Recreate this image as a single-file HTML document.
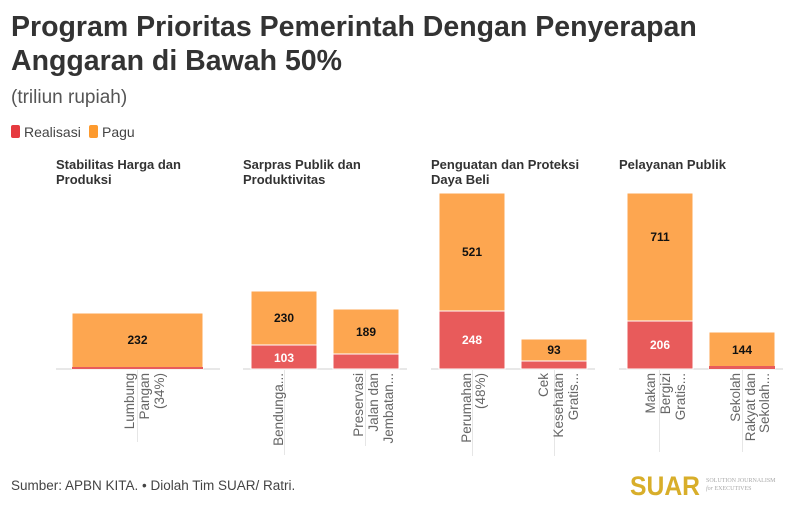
<!DOCTYPE html>
<html><head><meta charset="utf-8"><style>
body{margin:0;background:#fff;}
svg{display:block;font-family:"Liberation Sans",sans-serif;}
.t{font-size:28.5px;font-weight:bold;fill:#333;}
.pt{font-size:13px;font-weight:bold;fill:#333;}
.xl{font-size:13.5px;fill:#666;}
.vo{font-size:12px;font-weight:bold;fill:#111;text-anchor:middle;}
.vr{font-size:12px;font-weight:bold;fill:#fff;text-anchor:middle;}
</style></head><body>
<svg width="795" height="507" viewBox="0 0 795 507">
<text class="t" x="11" y="36">Program Prioritas Pemerintah Dengan Penyerapan</text>
<text class="t" x="11" y="70">Anggaran di Bawah 50%</text>
<text x="11" y="103" font-size="19" fill="#555">(triliun rupiah)</text>
<rect x="11" y="125" width="9" height="13" rx="2" fill="#e63a3f"/>
<text x="24" y="137" font-size="14" fill="#444">Realisasi</text>
<rect x="89" y="125" width="9" height="13" rx="2" fill="#fd9a2e"/>
<text x="102" y="137" font-size="14" fill="#444">Pagu</text>

<text class="pt" x="56" y="169">Stabilitas Harga dan</text><text class="pt" x="56" y="184">Produksi</text>
<text class="pt" x="243" y="169">Sarpras Publik dan</text><text class="pt" x="243" y="184">Produktivitas</text>
<text class="pt" x="431" y="169">Penguatan dan Proteksi</text><text class="pt" x="431" y="184">Daya Beli</text>
<text class="pt" x="619" y="169">Pelayanan Publik</text>

<g fill="#e8e8e8">
<rect x="56" y="368" width="164" height="2"/><rect x="243" y="368" width="164" height="2"/>
<rect x="431" y="368" width="164" height="2"/><rect x="619" y="368" width="164" height="2"/>
</g>
<g stroke="#e6e6e6" stroke-width="1">
<line x1="137.5" y1="370" x2="137.5" y2="442"/>
<line x1="284.5" y1="370" x2="284.5" y2="455"/>
<line x1="365.5" y1="370" x2="365.5" y2="446"/>
<line x1="472.5" y1="370" x2="472.5" y2="456"/>
<line x1="554.5" y1="370" x2="554.5" y2="456"/>
<line x1="659.5" y1="370" x2="659.5" y2="452"/>
<line x1="742.5" y1="370" x2="742.5" y2="452"/>
</g>

<g stroke="#fff" stroke-width="1">
<rect x="72" y="313" width="131" height="56" fill="#fda650"/>
<rect x="72" y="367" width="131" height="2" fill="#e85b5b" stroke="none"/>
<rect x="251" y="291" width="66" height="78" fill="#fda650"/>
<rect x="251" y="345" width="66" height="24" fill="#e85b5b"/>
<rect x="333" y="309" width="66" height="60" fill="#fda650"/>
<rect x="333" y="354" width="66" height="15" fill="#e85b5b"/>
<rect x="439" y="193" width="66" height="176" fill="#fda650"/>
<rect x="439" y="311" width="66" height="58" fill="#e85b5b"/>
<rect x="521" y="339" width="66" height="30" fill="#fda650"/>
<rect x="521" y="361" width="66" height="8" fill="#e85b5b"/>
<rect x="627" y="193" width="66" height="176" fill="#fda650"/>
<rect x="627" y="321" width="66" height="48" fill="#e85b5b"/>
<rect x="709" y="332" width="66" height="37" fill="#fda650"/>
<rect x="709" y="366" width="66" height="3" fill="#e85b5b" stroke="none"/>
</g>

<text class="vo" x="137.5" y="344">232</text>
<text class="vo" x="284" y="322">230</text>
<text class="vr" x="284" y="362">103</text>
<text class="vo" x="366" y="336">189</text>
<text class="vo" x="472" y="256">521</text>
<text class="vr" x="472" y="344">248</text>
<text class="vo" x="554" y="354">93</text>
<text class="vo" x="660" y="241">711</text>
<text class="vr" x="660" y="349">206</text>
<text class="vo" x="742" y="354">144</text>

<g class="xl" text-anchor="end">
<text transform="translate(134,373) rotate(-90)">Lumbung</text>
<text transform="translate(149,373) rotate(-90)">Pangan</text>
<text transform="translate(164,373) rotate(-90)">(34%)</text>
<text transform="translate(283,373) rotate(-90)">Bendunga...</text>
<text transform="translate(363,373) rotate(-90)">Preservasi</text>
<text transform="translate(378,373) rotate(-90)">Jalan dan</text>
<text transform="translate(393,373) rotate(-90)">Jembatan...</text>
<text transform="translate(471,373) rotate(-90)">Perumahan</text>
<text transform="translate(485,373) rotate(-90)">(48%)</text>
<text transform="translate(548,373) rotate(-90)">Cek</text>
<text transform="translate(563,373) rotate(-90)">Kesehatan</text>
<text transform="translate(578,373) rotate(-90)">Gratis...</text>
<text transform="translate(655,373) rotate(-90)">Makan</text>
<text transform="translate(670,373) rotate(-90)">Bergizi</text>
<text transform="translate(685,373) rotate(-90)">Gratis...</text>
<text transform="translate(740,373) rotate(-90)">Sekolah</text>
<text transform="translate(755,373) rotate(-90)">Rakyat dan</text>
<text transform="translate(769,373) rotate(-90)">Sekolah...</text>
</g>

<text x="11" y="490" font-size="13.5" fill="#444">Sumber: APBN KITA. • Diolah Tim SUAR/ Ratri.</text>
<text x="630" y="495" font-size="27" font-weight="bold" fill="#d8ae2a" textLength="70" lengthAdjust="spacingAndGlyphs">SUAR</text>
<text x="706" y="482" font-size="6" fill="#aaa" font-family="Liberation Serif,serif">SOLUTION JOURNALISM</text>
<text x="706" y="490" font-size="6" fill="#aaa" font-family="Liberation Serif,serif"><tspan font-style="italic">for</tspan> EXECUTIVES</text>
</svg>
</body></html>
